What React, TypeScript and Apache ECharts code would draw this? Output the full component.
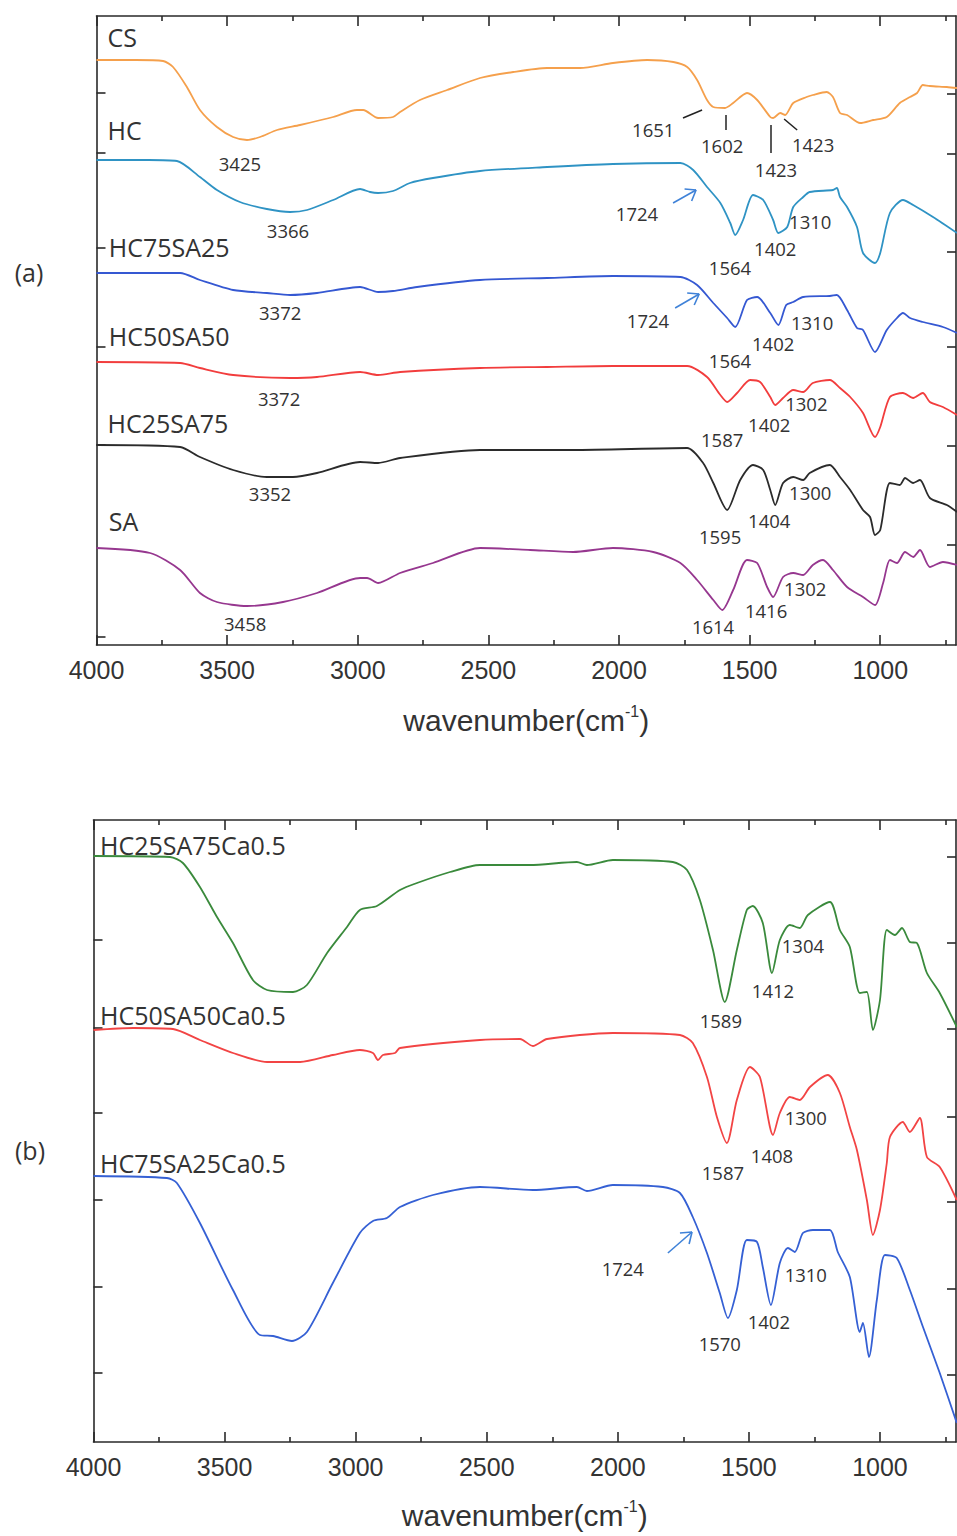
import React, { useEffect, useRef } from "react";
import * as echarts from "echarts";

const FONT_TEXT = "'Open Sans', 'Noto Sans', sans-serif";
const FONT_AXIS = "'Liberation Sans', Arial, sans-serif";
const AX = "#2a2a2a";

const X_MAX = 4000;
const X_MIN = 710;
const majorTicks = [4000, 3500, 3000, 2500, 2000, 1500, 1000];
const minorTicks = [3750, 3250, 2750, 2250, 1750, 1250, 750];

// ---- Panel (a) spectra: [wavenumber, transmittance (a.u., offset)] ----
const csData = [[4000,585],[3850,585],[3745,584],[3707,578],[3654,558],[3604,535],[3539,518],[3477,508],[3424,505],[3374,508],[3309,515],[3221,520],[3094,528],[3003,535],[2979,535],[2922,527],[2865,528],[2838,533],[2762,545],[2658,555],[2532,567],[2405,573],[2275,577],[2149,577],[2023,582],[1892,585],[1792,583],[1739,578],[1701,565],[1663,545],[1639,538],[1594,537],[1563,542],[1510,552],[1471,545],[1421,528],[1410,527],[1383,532],[1364,530],[1333,542],[1282,548],[1258,550],[1205,553],[1181,548],[1154,532],[1127,530],[1077,522],[1027,525],[975,528],[925,542],[886,548],[859,552],[837,560],[810,559],[745,558],[706,557]];
const hcData = [[4000,485],[3800,485],[3692,484],[3604,468],[3539,455],[3451,443],[3348,436],[3259,433],[3194,435],[3094,445],[2991,456],[2953,453],[2922,452],[2865,454],[2800,462],[2712,467],[2532,474],[2275,478],[2023,481],[1765,482],[1716,475],[1663,458],[1612,442],[1574,422],[1555,410],[1525,425],[1487,450],[1448,445],[1410,425],[1390,412],[1356,418],[1333,438],[1295,448],[1270,453],[1181,455],[1166,457],[1154,448],[1127,438],[1089,418],[1066,392],[1020,382],[1000,392],[963,432],[913,445],[874,440],[798,428],[706,412]];
const hc75sa25Data = [[4000,372],[3680,372],[3604,365],[3477,355],[3348,352],[3259,350],[3156,352],[2991,358],[2922,353],[2865,354],[2773,358],[2532,365],[2275,367],[2023,369],[1765,368],[1701,360],[1639,342],[1586,327],[1555,318],[1510,345],[1471,348],[1421,332],[1390,320],[1360,340],[1333,343],[1295,348],[1193,349],[1166,350],[1127,335],[1089,317],[1066,315],[1020,293],[975,315],[936,327],[913,332],[886,327],[837,323],[760,318],[706,312]];
const hc50sa50Data = [[4000,283],[3680,282],[3604,277],[3477,270],[3259,267],[3156,268],[2991,273],[2922,270],[2838,273],[2532,277],[2275,278],[2023,279],[1739,279],[1663,268],[1612,250],[1586,243],[1548,252],[1498,265],[1460,263],[1421,248],[1402,240],[1372,247],[1333,255],[1295,253],[1258,262],[1193,265],[1154,257],[1115,248],[1066,232],[1020,208],[1000,218],[963,248],[913,252],[874,247],[837,252],[810,243],[760,238],[706,230]];
const hc25sa75Data = [[4000,200],[3680,198],[3604,188],[3477,175],[3348,168],[3248,168],[3156,172],[2991,183],[2922,182],[2838,187],[2532,195],[2176,195],[1739,197],[1678,182],[1639,162],[1586,135],[1536,165],[1487,180],[1448,175],[1421,155],[1402,140],[1372,162],[1333,168],[1295,165],[1270,172],[1193,180],[1154,168],[1115,155],[1066,135],[1039,128],[1020,110],[1000,115],[963,162],[925,160],[905,167],[874,162],[848,165],[810,147],[745,140],[706,133]];
const saData = [[4000,97],[3795,92],[3680,75],[3604,52],[3539,43],[3424,39],[3286,43],[3156,52],[2991,67],[2964,67],[2922,62],[2838,72],[2712,82],[2532,97],[2340,95],[2176,93],[2023,97],[1869,93],[1765,82],[1701,65],[1639,45],[1605,35],[1563,55],[1510,85],[1471,82],[1433,58],[1410,48],[1372,68],[1333,72],[1295,70],[1258,80],[1219,85],[1181,75],[1127,58],[1066,48],[1020,40],[989,62],[963,85],[936,82],[905,93],[874,88],[848,95],[810,78],[760,83],[706,80]];

// ---- Panel (b) spectra ----
const hc25sa75CaData = [[4000,586],[3708,585],[3659,579],[3594,555],[3529,525],[3468,499],[3392,462],[3338,452],[3239,450],[3186,457],[3109,489],[3033,515],[2984,532],[2919,536],[2831,552],[2766,559],[2640,570],[2526,577],[2335,577],[2156,580],[2118,577],[2019,582],[1790,580],[1736,572],[1687,542],[1637,492],[1592,440],[1546,492],[1508,532],[1485,536],[1447,519],[1412,469],[1382,502],[1344,517],[1306,514],[1275,527],[1191,540],[1153,512],[1115,495],[1077,449],[1050,450],[1027,412],[1000,442],[974,512],[943,507],[916,514],[886,500],[859,499],[821,469],[772,449],[707,415]];
const hc50sa50CaData = [[4000,412],[3849,414],[3697,413],[3594,402],[3468,389],[3338,380],[3212,380],[3087,387],[2984,392],[2934,389],[2915,382],[2896,387],[2850,389],[2831,394],[2526,402],[2373,403],[2324,396],[2270,403],[2019,409],[1763,407],[1714,399],[1660,365],[1622,325],[1584,299],[1546,342],[1496,375],[1458,365],[1408,307],[1382,329],[1344,345],[1306,342],[1267,355],[1199,367],[1153,349],[1115,315],[1088,292],[1050,242],[1027,207],[1000,232],[974,279],[962,305],[913,320],[886,310],[848,324],[821,285],[772,275],[707,242]];
const hc75sa25CaData = [[4000,266],[3720,264],[3682,259],[3594,219],[3468,152],[3365,107],[3315,106],[3243,101],[3186,110],[3087,159],[2984,209],[2934,221],[2881,224],[2831,235],[2705,247],[2526,255],[2324,252],[2156,255],[2118,251],[2019,257],[1828,255],[1763,249],[1714,225],[1660,189],[1611,149],[1580,124],[1546,152],[1508,202],[1469,200],[1447,175],[1416,137],[1382,179],[1351,194],[1325,190],[1294,209],[1256,212],[1191,212],[1161,190],[1115,165],[1077,110],[1065,119],[1042,85],[1012,142],[981,187],[936,184],[886,152],[836,115],[772,69],[707,19]];

// y ranges and y tick positions (a.u.)
const Y_MAX_A = 629;
const Y_MAX_B = 622;
const leftTicksA = [552, 492, 397, 298, 200, 8];
const rightTicksA = [551, 491, 393, 298, 199, 100];
const leftTicksB = [502, 414, 329, 242, 155, 69];
const rightTicksB = [585, 499, 413, 325, 240, 153, 67];

// sample names: [name, wavenumber of left edge, level]
const namesA = [["CS", 3958, 608], ["HC", 3958, 515], ["HC75SA25", 3953, 398], ["HC50SA50", 3953, 309], ["HC25SA75", 3958, 222], ["SA", 3953, 124]];
const namesB = [["HC25SA75Ca0.5", 3975, 597], ["HC50SA50Ca0.5", 3975, 427], ["HC75SA25Ca0.5", 3975, 279]];

// peak annotations: [wavenumber, level, text]
const peaksA = [[3451,482,"3425"],[3267,415,"3366"],[3297,333,"3372"],[3301,247,"3372"],[3336,152,"3352"],[3431,22,"3458"],[1869,516,"1651"],[1605,500,"1602"],[1399,476,"1423"],[1257,501,"1423"],[1931,432,"1724"],[1575,378,"1564"],[1402,397,"1402"],[1268,424,"1310"],[1889,325,"1724"],[1575,285,"1564"],[1410,302,"1402"],[1261,323,"1310"],[1605,206,"1587"],[1425,221,"1402"],[1283,242,"1302"],[1613,109,"1595"],[1425,125,"1404"],[1268,153,"1300"],[1640,19,"1614"],[1437,35,"1416"],[1287,57,"1302"]];
const peaksB = [[1294,497,"1304"],[1408,452,"1412"],[1607,422,"1589"],[1283,325,"1300"],[1412,287,"1408"],[1599,270,"1587"],[1981,174,"1724"],[1283,168,"1310"],[1424,121,"1402"],[1611,99,"1570"]];

// CS leader lines [wn1, v1, wn2, v2]
const leadersCS = [[1755,527,1682,535],[1590,530,1590,515],[1418,520,1418,492],[1368,526,1318,515]];
// arrows [tailWn, tailV, tipWn, tipV, head1Wn, head1V, head2Wn, head2V]
const arrowHC = [1793,442,1705,455,1749,456,1722,444];
const arrowHC75 = [1785,337,1693,351,1739,352,1712,340];
const arrowHC75Ca = [1809,189,1717,210,1763,209,1728,198];

const arrowSegs = (a: number[]) => [
  [{ coord: [a[0], a[1]] }, { coord: [a[2], a[3]] }],
  [{ coord: [a[2], a[3]] }, { coord: [a[4], a[5]] }],
  [{ coord: [a[2], a[3]] }, { coord: [a[6], a[7]] }],
];
const arrowMark = (a: number[]) => ({
  silent: true,
  symbol: ["none", "none"],
  label: { show: false },
  lineStyle: { color: "#3f82d8", width: 1.6, type: "solid" },
  data: arrowSegs(a),
});

const mkX = (grid: number, position: string, ticks: number[], len: number, line: boolean, labels: boolean, gap: number) => ({
  type: "value",
  gridIndex: grid,
  position,
  min: X_MIN,
  max: X_MAX,
  inverse: true,
  axisLine: { show: line, onZero: false, lineStyle: { color: AX, width: 1.6 } },
  axisTick: { show: true, inside: true, length: len, customValues: ticks, lineStyle: { color: AX, width: 1.6 } },
  axisLabel: labels
    ? { show: true, customValues: majorTicks, fontSize: 25, fontFamily: FONT_AXIS, color: "#333", margin: 12, formatter: (v: number) => String(v) }
    : { show: false },
  splitLine: { show: false },
  ...(labels
    ? {
        name: "{a|wavenumber(cm}{s|-1}{a|)}",
        nameLocation: "middle",
        nameGap: gap,
        nameTextStyle: {
          rich: {
            a: { fontSize: 30, fontFamily: FONT_AXIS, color: "#333", lineHeight: 34 },
            s: { fontSize: 16, fontFamily: FONT_AXIS, color: "#333", lineHeight: 16, verticalAlign: "top" },
          },
        },
      }
    : {}),
});

const mkY = (grid: number, position: string, max: number, ticks: number[]) => ({
  type: "value",
  gridIndex: grid,
  position,
  min: 0,
  max,
  axisLine: { show: true, onZero: false, lineStyle: { color: AX, width: 1.6 } },
  axisTick: { show: true, inside: true, length: 9, customValues: ticks, lineStyle: { color: AX, width: 1.6 } },
  axisLabel: { show: false },
  splitLine: { show: false },
});

const line = (name: string, data: number[][], color: string, xi: number, yi: number, extra: any = {}) => ({
  type: "line",
  name,
  data,
  xAxisIndex: xi,
  yAxisIndex: yi,
  showSymbol: false,
  smooth: 0.25,
  lineStyle: { color, width: 1.8 },
  itemStyle: { color },
  silent: true,
  ...extra,
});

export default function App() {
  const ref = useRef<HTMLDivElement>(null);
  useEffect(() => {
    if (!ref.current) return;
    const chart = echarts.init(ref.current, null, { renderer: "svg" });
    const option: any = {
      animation: false,
      backgroundColor: "#ffffff",
      grid: [
        { left: 96.5, top: 16, width: 859.5, height: 629 },
        { left: 93.5, top: 820, width: 862.5, height: 622 },
      ],
      xAxis: [
        mkX(0, "bottom", majorTicks, 10, true, true, 58),
        mkX(0, "bottom", minorTicks, 5, false, false, 0),
        mkX(0, "top", majorTicks, 10, true, false, 0),
        mkX(0, "top", minorTicks, 5, false, false, 0),
        mkX(1, "bottom", majorTicks, 10, true, true, 56),
        mkX(1, "bottom", minorTicks, 5, false, false, 0),
        mkX(1, "top", majorTicks, 10, true, false, 0),
        mkX(1, "top", minorTicks, 5, false, false, 0),
      ],
      yAxis: [
        mkY(0, "left", Y_MAX_A, leftTicksA),
        mkY(0, "right", Y_MAX_A, rightTicksA),
        mkY(1, "left", Y_MAX_B, leftTicksB),
        mkY(1, "right", Y_MAX_B, rightTicksB),
      ],
      series: [
        line("CS", csData, "#f5a04c", 0, 0, {
          markLine: {
            silent: true,
            symbol: ["none", "none"],
            label: { show: false },
            lineStyle: { color: "#222", width: 1.5, type: "solid" },
            data: leadersCS.map((l) => [{ coord: [l[0], l[1]] }, { coord: [l[2], l[3]] }]),
          },
        }),
        line("HC", hcData, "#2f93c4", 0, 0, { markLine: arrowMark(arrowHC) }),
        line("HC75SA25", hc75sa25Data, "#3558d2", 0, 0, { markLine: arrowMark(arrowHC75) }),
        line("HC50SA50", hc50sa50Data, "#f23d3d", 0, 0),
        line("HC25SA75", hc25sa75Data, "#2b2b2b", 0, 0),
        line("SA", saData, "#96378f", 0, 0),
        line("HC25SA75Ca0.5", hc25sa75CaData, "#3a8a3c", 4, 2),
        line("HC50SA50Ca0.5", hc50sa50CaData, "#f24444", 4, 2),
        line("HC75SA25Ca0.5", hc75sa25CaData, "#3560d4", 4, 2, { markLine: arrowMark(arrowHC75Ca) }),
      ],
    };
    chart.setOption(option);

    const px = (si: number, wn: number, v: number) => chart.convertToPixel({ seriesIndex: si }, [wn, v]) as number[];
    const graphic: any[] = [];
    const nameStyle = (t: string) => ({ text: t, fontSize: 25, fontFamily: FONT_TEXT, fill: "#333", align: "left", verticalAlign: "middle" });
    const peakStyle = (t: string) => ({ text: t, fontSize: 18.5, fontFamily: FONT_TEXT, fill: "#333", align: "center", verticalAlign: "middle" });
    namesA.forEach(([t, wn, v]) => {
      const p = px(0, wn as number, v as number);
      graphic.push({ type: "text", x: p[0], y: p[1], style: nameStyle(t as string) });
    });
    namesB.forEach(([t, wn, v]) => {
      const p = px(6, wn as number, v as number);
      graphic.push({ type: "text", x: p[0], y: p[1], style: nameStyle(t as string) });
    });
    peaksA.forEach(([wn, v, t]) => {
      const p = px(0, wn as number, v as number);
      graphic.push({ type: "text", x: p[0], y: p[1], style: peakStyle(t as string) });
    });
    peaksB.forEach(([wn, v, t]) => {
      const p = px(6, wn as number, v as number);
      graphic.push({ type: "text", x: p[0], y: p[1], style: peakStyle(t as string) });
    });
    graphic.push({ type: "text", x: 29, y: 272, style: { text: "(a)", fontSize: 25, fontFamily: FONT_TEXT, fill: "#333", align: "center", verticalAlign: "middle" } });
    graphic.push({ type: "text", x: 30, y: 1150, style: { text: "(b)", fontSize: 25, fontFamily: FONT_TEXT, fill: "#333", align: "center", verticalAlign: "middle" } });
    chart.setOption({ graphic });

    return () => chart.dispose();
  }, []);
  return (
    <div style={{ position: "absolute", left: 0, top: 0, width: 957, height: 1536, background: "#fff" }}>
      <div ref={ref} style={{ width: 957, height: 1536 }} />
    </div>
  );
}
